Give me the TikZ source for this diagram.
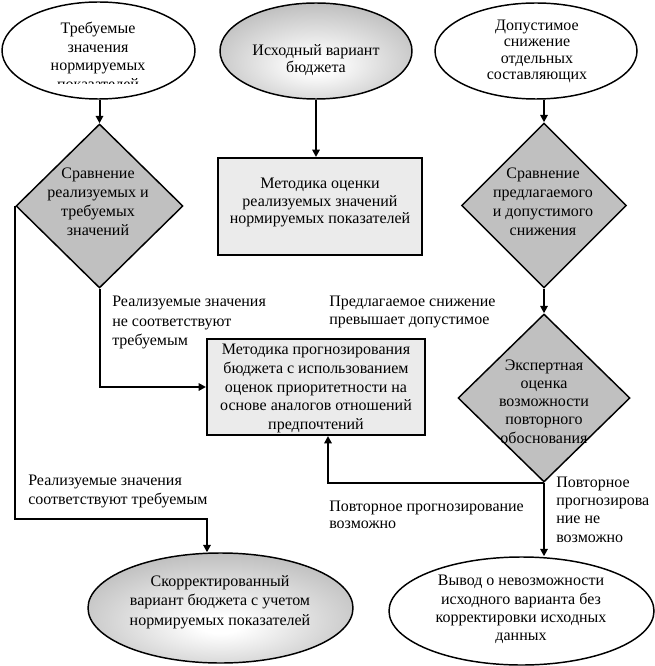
\documentclass[tikz,border=0pt]{standalone}
\usepackage{fontspec}
\setmainfont{Liberation Serif}
\usetikzlibrary{shapes.geometric,arrows.meta,calc}
\definecolor{dgray}{HTML}{C0C0C0}
\definecolor{rgray}{HTML}{EBEBEB}
\definecolor{egray}{HTML}{969696}
\pgfdeclareradialshading{softgray}{\pgfpoint{0bp}{-8bp}}{color(0bp)=(white); color(4bp)=(white); color(46bp)=(egray); color(70bp)=(egray)}
\newcommand{\fs}[1]{\fontsize{12pt}{#1}\selectfont}
\begin{document}
\begin{tikzpicture}[x=0.75pt,y=-0.75pt,
  conn/.style={line width=1.5pt, -{Triangle[length=5.5pt,width=5.5pt]}},
  ellw/.style={ellipse, draw, line width=1.1pt, fill=white, inner sep=0pt},
  ellg/.style={ellipse, draw, line width=1.1pt, inner sep=0pt, shading=softgray},
  dia/.style={diamond, draw, line width=1.1pt, fill=dgray, inner sep=0pt},
  boxr/.style={rectangle, draw, line width=1.5pt, fill=rgray, inner sep=0pt},
  txt/.style={align=center, inner sep=0pt},
  lbl/.style={align=left, inner sep=0pt, anchor=west},
]
\useasboundingbox (0,0) rectangle (655,666);

% shapes
\node[ellw, minimum width=144.75pt, minimum height=72.75pt] (E1) at (98.5,50.5) {};
\node[ellg, minimum width=144pt, minimum height=72pt] (E2) at (316,51) {};
\node[ellw, minimum width=151.5pt, minimum height=72pt] (E3) at (536,51) {};
\node[dia, minimum width=125.25pt, minimum height=123pt] (D1) at (99.5,206) {};
\node[dia, minimum width=123.75pt, minimum height=123.75pt] (D2) at (544,205.5) {};
\node[boxr, minimum width=153pt, minimum height=72.75pt] (R1) at (320,206.5) {};
\node[boxr, minimum width=163.5pt, minimum height=72pt] (B2) at (316,387) {};
\node[dia, minimum width=129pt, minimum height=126pt] (D3) at (544,398) {};
\node[ellg, minimum width=198.75pt, minimum height=82.5pt] (E4) at (220.5,608) {};
\node[ellw, minimum width=198.75pt, minimum height=81pt] (E5) at (521.5,611) {};

% texts in shapes
\begin{scope}
\clip (0,0) rectangle (200,83.5);
\node[txt, font=\fs{13.9pt}] (T1) at (98,56) {Требуемые\\значения\\нормируемых\\показателей};
\end{scope}
\node[txt, font=\fs{12.4pt}] (T2) at (316,60) {Исходный вариант\\бюджета};
\node[txt, font=\fs{12.4pt}] (T3) at (537,51.5) {Допустимое\\снижение\\отдельных\\составляющих};
\node[txt, font=\fs{14.25pt}] (TD1) at (98,201.5) {Сравнение\\реализуемых и\\требуемых\\значений};
\node[txt, font=\fs{14.25pt}] (TD2) at (543,201.5) {Сравнение\\предлагаемого\\и допустимого\\снижения};
\node[txt, font=\fs{13.1pt}] (TR1) at (320,202.5) {Методика оценки\\реализуемых значений\\нормируемых показателей};
\node[txt, font=\fs{14pt}] (TB2) at (316,388.5) {Методика прогнозирования\\бюджета с использованием\\оценок приоритетности на\\основе аналогов отношений\\предпочтений};
\node[txt, font=\fs{13.7pt}] (TD3) at (544,401.5) {Экспертная\\оценка\\возможности\\повторного\\обоснования};
\node[txt, font=\fs{14.6pt}] (TE4) at (220,602) {Скорректированный\\вариант бюджета с учетом\\нормируемых показателей};
\node[txt, font=\fs{13.7pt}] (TE5) at (521,609.5) {Вывод о невозможности\\исходного варианта без\\корректировки исходных\\данных};

% labels
\node[lbl, font=\fs{14.6pt}] (L1) at (112,322.5) {Реализуемые значения\\не соответствуют\\требуемым};
\node[lbl, font=\fs{13.5pt}] (L2) at (329,312) {Предлагаемое снижение\\превышает допустимое};
\node[lbl, font=\fs{14.25pt}] (L3) at (28,491.5) {Реализуемые значения\\соответствуют требуемым};
\node[lbl, font=\fs{12.75pt}] (L4) at (329,515) {Повторное прогнозирование\\возможно};
\node[lbl, font=\fs{13.7pt}] (L5) at (556,509.5) {Повторное\\прогнозирова\\ние не\\возможно};

% connectors
\coordinate (K1) at (207,519);
\coordinate (K2) at (328,0 |- B2.south);
\draw[conn] (D1.north |- E1.south) -- (D1.north);
\draw[conn] (E2.south) -- (E2.south |- R1.north);
\draw[conn] (D2.north |- E3.south) -- (D2.north);
\draw[conn] (D1.south) |- (B2.west);
\draw[conn] (D1.west) |- (K1) -- (K1 |- E4.north);
\draw[conn] (D2.south) -- (D3.north);
\draw[conn] (D3.south) -| (K2);
\draw[conn] (D3.south) -- (D3.south |- E5.north);
\end{tikzpicture}
\end{document}
